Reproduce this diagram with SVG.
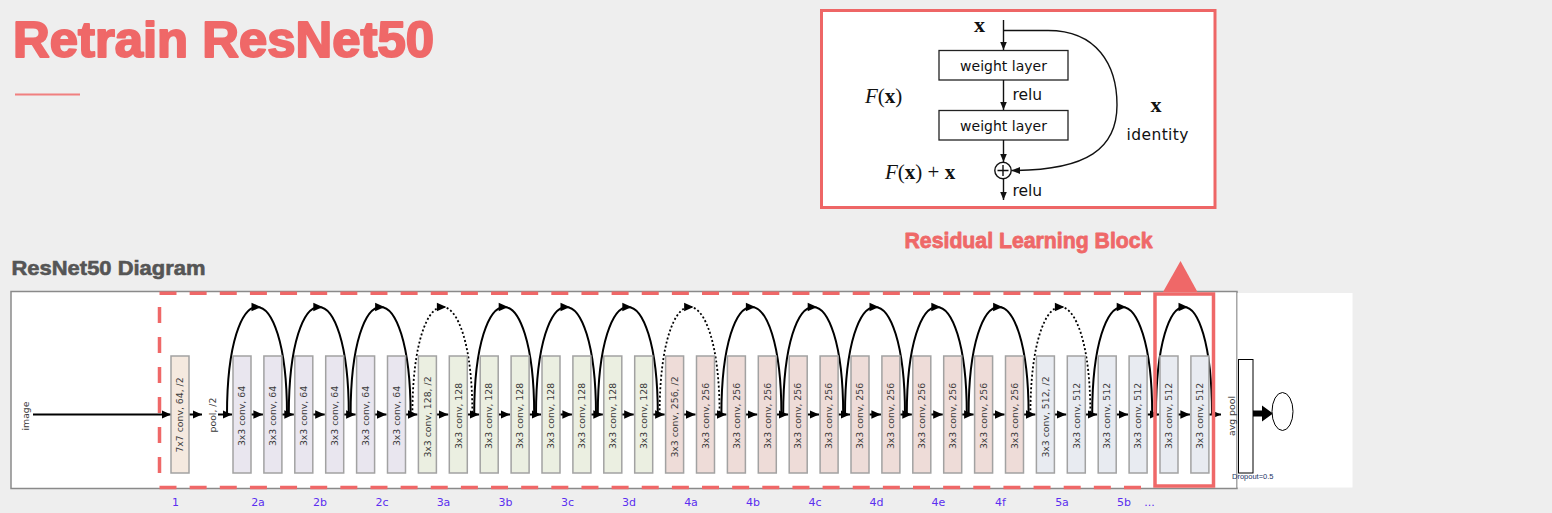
<svg xmlns="http://www.w3.org/2000/svg" xmlns:xlink="http://www.w3.org/1999/xlink" width="1552" height="513" viewBox="0 0 1552 513">
<defs>
<style>
.title{font-family:"Liberation Sans",Arial,sans-serif;font-weight:bold;fill:#ef6868;stroke:#ef6868;stroke-linejoin:round}
.sub{font-family:"Liberation Sans",Arial,sans-serif;font-weight:bold;fill:#555;stroke:#555;stroke-width:0.6}
.bx{stroke:#a2a2a2;stroke-width:1.5}
.c1{fill:#f5e9df}.c2{fill:#e9e6ef}.c3{fill:#ebefe1}.c4{fill:#eedcd8}.c5{fill:#e8ebf1}
.bt{font-family:"DejaVu Sans",sans-serif;font-size:9.3px;fill:#3a3a3a;text-anchor:middle}
.lab{font-family:"DejaVu Sans",sans-serif;font-size:11px;fill:#5b2ef0;text-anchor:middle}
.ml{stroke:#000;stroke-width:2;fill:none}
.arc{stroke:#000;stroke-width:2;fill:none}
.dot{stroke-dasharray:2 2.2;stroke-width:1.8}
.rb{font-family:"DejaVu Sans",sans-serif;fill:#111}
.mth{font-family:"Liberation Serif",serif;fill:#111}
.rl{stroke:#111;stroke-width:1.4;fill:none}
</style>
<marker id="ah" markerUnits="userSpaceOnUse" markerWidth="10" markerHeight="10" viewBox="0 0 10 10" refX="9.5" refY="5" orient="auto"><path d="M0,0.8 L9.5,5 L0,9.2z" fill="#000"/></marker>
<marker id="ah2" markerUnits="userSpaceOnUse" markerWidth="9" markerHeight="9" viewBox="0 0 9 9" refX="8.5" refY="4.5" orient="auto"><path d="M0,1 L8.5,4.5 L0,8z" fill="#111"/></marker>
<path id="tri" d="M-5.5,-4.3 L4,0 L-5.5,4.3z" fill="#000"/>
</defs>
<rect width="1552" height="513" fill="#eeeeee"/>

<g id="title">
<text x="13" y="57" class="title" font-size="50" stroke-width="2" textLength="421" lengthAdjust="spacingAndGlyphs">Retrain ResNet50</text>
<line x1="15" y1="94.5" x2="80" y2="94.5" stroke="#f07f7f" stroke-width="2"/>
</g>
<g id="subtitle"><text x="11.5" y="275" class="sub" font-size="21" textLength="194" lengthAdjust="spacingAndGlyphs">ResNet50 Diagram</text></g>
<g id="residual-caption"><text x="904.5" y="248" class="title" font-size="21.5" stroke-width="0.8" textLength="248" lengthAdjust="spacingAndGlyphs">Residual Learning Block</text></g>

<g id="residual-block">
<rect x="821.5" y="10.5" width="393.5" height="197" fill="#fff" stroke="#ee6666" stroke-width="3"/>
<text x="979.5" y="32" class="mth" font-size="22" font-weight="bold" text-anchor="middle">x</text>
<rect x="939" y="50.5" width="129" height="29.5" fill="#fff" stroke="#222" stroke-width="1.3"/>
<text x="1003.5" y="71" class="rb" font-size="14" text-anchor="middle">weight layer</text>
<rect x="939" y="110.5" width="129" height="29.5" fill="#fff" stroke="#222" stroke-width="1.3"/>
<text x="1003.5" y="131" class="rb" font-size="14" text-anchor="middle">weight layer</text>
<text x="1012.5" y="99.5" class="rb" font-size="15.5">relu</text>
<text x="1012.5" y="195.5" class="rb" font-size="15.5">relu</text>
<text x="865" y="103" class="mth" font-size="21"><tspan font-style="italic">F</tspan>(<tspan font-weight="bold">x</tspan>)</text>
<text x="885" y="179" class="mth" font-size="21"><tspan font-style="italic">F</tspan>(<tspan font-weight="bold">x</tspan>) + <tspan font-weight="bold">x</tspan></text>
<text x="1156" y="112" class="mth" font-size="22" font-weight="bold" text-anchor="middle">x</text>
<text x="1157.5" y="140" class="rb" font-size="15.5" text-anchor="middle" textLength="62">identity</text>
<circle cx="1003" cy="170.5" r="8.2" fill="none" stroke="#111" stroke-width="1.4"/>
<path d="M997.5,170.5 H1008.5 M1003,165 V176" stroke="#111" stroke-width="1.4"/>
<line x1="1003.5" y1="20" x2="1003.5" y2="50" class="rl" marker-end="url(#ah2)"/>
<line x1="1003.5" y1="80" x2="1003.5" y2="110" class="rl" marker-end="url(#ah2)"/>
<line x1="1003.5" y1="140" x2="1003.5" y2="162" class="rl" marker-end="url(#ah2)"/>
<line x1="1003.5" y1="179" x2="1003.5" y2="200" class="rl" marker-end="url(#ah2)"/>
<path d="M1004,30.5 L1048,30.5 C1097,30.5 1117,65 1117,105 C1117,148 1088,170.5 1011.5,170.5" class="rl" marker-end="url(#ah2)"/>
</g>

<g id="diagram-frame">
<rect x="11" y="291.5" width="1226" height="197" fill="#fff" stroke="#8a8a8a" stroke-width="1.5"/>
<rect x="1237.5" y="293" width="115" height="194.5" fill="#fff"/>
<g stroke="#ef6868" stroke-width="3.5" fill="none">
<line x1="159.5" y1="293.2" x2="1153" y2="293.2" stroke-dasharray="17 13.14"/>
<line x1="159.5" y1="487.5" x2="1153" y2="487.5" stroke-dasharray="17 13.14"/>
<line x1="159.5" y1="307" x2="159.5" y2="487" stroke-dasharray="16 14"/>
</g>
</g>

<g id="connectors">
<line x1="33" y1="414.5" x2="171" y2="414.5" class="ml" marker-end="url(#ah)"/>
<line x1="189" y1="414.5" x2="202" y2="414.5" class="ml" marker-end="url(#ah)"/>
<line x1="218" y1="414.5" x2="232" y2="414.5" class="ml" marker-end="url(#ah)"/>
<line x1="251" y1="414.5" x2="262.9" y2="414.5" class="ml" marker-end="url(#ah)"/>
<line x1="281.9" y1="414.5" x2="293.8" y2="414.5" class="ml" marker-end="url(#ah)"/>
<line x1="312.8" y1="414.5" x2="324.7" y2="414.5" class="ml" marker-end="url(#ah)"/>
<line x1="343.7" y1="414.5" x2="355.6" y2="414.5" class="ml" marker-end="url(#ah)"/>
<line x1="374.6" y1="414.5" x2="386.5" y2="414.5" class="ml" marker-end="url(#ah)"/>
<line x1="405.5" y1="414.5" x2="417.4" y2="414.5" class="ml" marker-end="url(#ah)"/>
<line x1="436.4" y1="414.5" x2="448.3" y2="414.5" class="ml" marker-end="url(#ah)"/>
<line x1="467.3" y1="414.5" x2="479.2" y2="414.5" class="ml" marker-end="url(#ah)"/>
<line x1="498.2" y1="414.5" x2="510.1" y2="414.5" class="ml" marker-end="url(#ah)"/>
<line x1="529.1" y1="414.5" x2="541" y2="414.5" class="ml" marker-end="url(#ah)"/>
<line x1="560" y1="414.5" x2="571.9" y2="414.5" class="ml" marker-end="url(#ah)"/>
<line x1="590.9" y1="414.5" x2="602.8" y2="414.5" class="ml" marker-end="url(#ah)"/>
<line x1="621.8" y1="414.5" x2="633.7" y2="414.5" class="ml" marker-end="url(#ah)"/>
<line x1="652.7" y1="414.5" x2="664.6" y2="414.5" class="ml" marker-end="url(#ah)"/>
<line x1="683.6" y1="414.5" x2="695.5" y2="414.5" class="ml" marker-end="url(#ah)"/>
<line x1="714.5" y1="414.5" x2="726.4" y2="414.5" class="ml" marker-end="url(#ah)"/>
<line x1="745.4" y1="414.5" x2="757.3" y2="414.5" class="ml" marker-end="url(#ah)"/>
<line x1="776.3" y1="414.5" x2="788.2" y2="414.5" class="ml" marker-end="url(#ah)"/>
<line x1="807.2" y1="414.5" x2="819.1" y2="414.5" class="ml" marker-end="url(#ah)"/>
<line x1="838.1" y1="414.5" x2="850" y2="414.5" class="ml" marker-end="url(#ah)"/>
<line x1="869" y1="414.5" x2="880.9" y2="414.5" class="ml" marker-end="url(#ah)"/>
<line x1="899.9" y1="414.5" x2="911.8" y2="414.5" class="ml" marker-end="url(#ah)"/>
<line x1="930.8" y1="414.5" x2="942.7" y2="414.5" class="ml" marker-end="url(#ah)"/>
<line x1="961.7" y1="414.5" x2="973.6" y2="414.5" class="ml" marker-end="url(#ah)"/>
<line x1="992.6" y1="414.5" x2="1004.5" y2="414.5" class="ml" marker-end="url(#ah)"/>
<line x1="1023.5" y1="414.5" x2="1035.4" y2="414.5" class="ml" marker-end="url(#ah)"/>
<line x1="1054.4" y1="414.5" x2="1066.3" y2="414.5" class="ml" marker-end="url(#ah)"/>
<line x1="1085.3" y1="414.5" x2="1097.2" y2="414.5" class="ml" marker-end="url(#ah)"/>
<line x1="1116.2" y1="414.5" x2="1128.1" y2="414.5" class="ml" marker-end="url(#ah)"/>
<line x1="1147.1" y1="414.5" x2="1159" y2="414.5" class="ml" marker-end="url(#ah)"/>
<line x1="1178" y1="414.5" x2="1189.9" y2="414.5" class="ml" marker-end="url(#ah)"/>
<line x1="1208.9" y1="414.5" x2="1221" y2="414.5" class="ml" marker-end="url(#ah)"/>
<path d="M1253,410.5 H1262 V405.5 L1273,413.5 L1262,421.5 V416.5 H1253z" fill="#000"/>
<path class="arc" d="M227,414.5 C227,271 287,271 287,414.5"/><use xlink:href="#tri" x="257" y="307"/>
<path class="arc" d="M288.8,414.5 C288.8,271 348.8,271 348.8,414.5"/><use xlink:href="#tri" x="318.8" y="307"/>
<path class="arc" d="M350.6,414.5 C350.6,271 410.6,271 410.6,414.5"/><use xlink:href="#tri" x="380.6" y="307"/>
<path class="arc dot" d="M412.4,414.5 C412.4,271 472.4,271 472.4,414.5"/><use xlink:href="#tri" x="442.4" y="307"/>
<path class="arc" d="M474.2,414.5 C474.2,271 534.2,271 534.2,414.5"/><use xlink:href="#tri" x="504.2" y="307"/>
<path class="arc" d="M536,414.5 C536,271 596,271 596,414.5"/><use xlink:href="#tri" x="566" y="307"/>
<path class="arc" d="M597.8,414.5 C597.8,271 657.8,271 657.8,414.5"/><use xlink:href="#tri" x="627.8" y="307"/>
<path class="arc dot" d="M659.6,414.5 C659.6,271 719.6,271 719.6,414.5"/><use xlink:href="#tri" x="689.6" y="307"/>
<path class="arc" d="M721.4,414.5 C721.4,271 781.4,271 781.4,414.5"/><use xlink:href="#tri" x="751.4" y="307"/>
<path class="arc" d="M783.2,414.5 C783.2,271 843.2,271 843.2,414.5"/><use xlink:href="#tri" x="813.2" y="307"/>
<path class="arc" d="M845,414.5 C845,271 905,271 905,414.5"/><use xlink:href="#tri" x="875" y="307"/>
<path class="arc" d="M906.8,414.5 C906.8,271 966.8,271 966.8,414.5"/><use xlink:href="#tri" x="936.8" y="307"/>
<path class="arc" d="M968.6,414.5 C968.6,271 1028.6,271 1028.6,414.5"/><use xlink:href="#tri" x="998.6" y="307"/>
<path class="arc dot" d="M1030.4,414.5 C1030.4,271 1090.4,271 1090.4,414.5"/><use xlink:href="#tri" x="1060.4" y="307"/>
<path class="arc" d="M1092.2,414.5 C1092.2,271 1152.2,271 1152.2,414.5"/><use xlink:href="#tri" x="1122.2" y="307"/>
<path class="arc" d="M1156,414.5 C1156,271 1212,271 1212,414.5"/><use xlink:href="#tri" x="1184" y="307"/>
</g>

<g id="n-image"><text class="bt" font-size="9.5" transform="translate(26,416) rotate(-90)" dy="0.35em">image</text></g>
<g id="n-conv1"><rect class="bx c1" x="171" y="356" width="18" height="117"/><text class="bt" transform="translate(180,415) rotate(-90)" dy="0.35em">7x7 conv, 64, /2</text></g>
<g id="n-pool"><text class="bt" font-size="9.5" transform="translate(213,415) rotate(-90)" dy="0.35em">pool, /2</text></g>

<g id="n-2a">
<rect class="bx c2" x="233" y="356" width="18" height="117"/><text class="bt" transform="translate(242,416) rotate(-90)" dy="0.35em">3x3 conv, 64</text>
<rect class="bx c2" x="263.9" y="356" width="18" height="117"/><text class="bt" transform="translate(272.9,416) rotate(-90)" dy="0.35em">3x3 conv, 64</text>
</g>
<g id="n-2b">
<rect class="bx c2" x="294.8" y="356" width="18" height="117"/><text class="bt" transform="translate(303.8,416) rotate(-90)" dy="0.35em">3x3 conv, 64</text>
<rect class="bx c2" x="325.7" y="356" width="18" height="117"/><text class="bt" transform="translate(334.7,416) rotate(-90)" dy="0.35em">3x3 conv, 64</text>
</g>
<g id="n-2c">
<rect class="bx c2" x="356.6" y="356" width="18" height="117"/><text class="bt" transform="translate(365.6,416) rotate(-90)" dy="0.35em">3x3 conv, 64</text>
<rect class="bx c2" x="387.5" y="356" width="18" height="117"/><text class="bt" transform="translate(396.5,416) rotate(-90)" dy="0.35em">3x3 conv, 64</text>
</g>
<g id="n-3a">
<rect class="bx c3" x="418.4" y="356" width="18" height="117"/><text class="bt" transform="translate(427.4,417) rotate(-90)" dy="0.35em">3x3 conv, 128, /2</text>
<rect class="bx c3" x="449.3" y="356" width="18" height="117"/><text class="bt" transform="translate(458.3,416) rotate(-90)" dy="0.35em">3x3 conv, 128</text>
</g>
<g id="n-3b">
<rect class="bx c3" x="480.2" y="356" width="18" height="117"/><text class="bt" transform="translate(489.2,416) rotate(-90)" dy="0.35em">3x3 conv, 128</text>
<rect class="bx c3" x="511.1" y="356" width="18" height="117"/><text class="bt" transform="translate(520.1,416) rotate(-90)" dy="0.35em">3x3 conv, 128</text>
</g>
<g id="n-3c">
<rect class="bx c3" x="542" y="356" width="18" height="117"/><text class="bt" transform="translate(551,416) rotate(-90)" dy="0.35em">3x3 conv, 128</text>
<rect class="bx c3" x="572.9" y="356" width="18" height="117"/><text class="bt" transform="translate(581.9,416) rotate(-90)" dy="0.35em">3x3 conv, 128</text>
</g>
<g id="n-3d">
<rect class="bx c3" x="603.8" y="356" width="18" height="117"/><text class="bt" transform="translate(612.8,416) rotate(-90)" dy="0.35em">3x3 conv, 128</text>
<rect class="bx c3" x="634.7" y="356" width="18" height="117"/><text class="bt" transform="translate(643.7,416) rotate(-90)" dy="0.35em">3x3 conv, 128</text>
</g>
<g id="n-4a">
<rect class="bx c4" x="665.6" y="356" width="18" height="117"/><text class="bt" transform="translate(674.6,417) rotate(-90)" dy="0.35em">3x3 conv, 256, /2</text>
<rect class="bx c4" x="696.5" y="356" width="18" height="117"/><text class="bt" transform="translate(705.5,416) rotate(-90)" dy="0.35em">3x3 conv, 256</text>
</g>
<g id="n-4b">
<rect class="bx c4" x="727.4" y="356" width="18" height="117"/><text class="bt" transform="translate(736.4,416) rotate(-90)" dy="0.35em">3x3 conv, 256</text>
<rect class="bx c4" x="758.3" y="356" width="18" height="117"/><text class="bt" transform="translate(767.3,416) rotate(-90)" dy="0.35em">3x3 conv, 256</text>
</g>
<g id="n-4c">
<rect class="bx c4" x="789.2" y="356" width="18" height="117"/><text class="bt" transform="translate(798.2,416) rotate(-90)" dy="0.35em">3x3 conv, 256</text>
<rect class="bx c4" x="820.1" y="356" width="18" height="117"/><text class="bt" transform="translate(829.1,416) rotate(-90)" dy="0.35em">3x3 conv, 256</text>
</g>
<g id="n-4d">
<rect class="bx c4" x="851" y="356" width="18" height="117"/><text class="bt" transform="translate(860,416) rotate(-90)" dy="0.35em">3x3 conv, 256</text>
<rect class="bx c4" x="881.9" y="356" width="18" height="117"/><text class="bt" transform="translate(890.9,416) rotate(-90)" dy="0.35em">3x3 conv, 256</text>
</g>
<g id="n-4e">
<rect class="bx c4" x="912.8" y="356" width="18" height="117"/><text class="bt" transform="translate(921.8,416) rotate(-90)" dy="0.35em">3x3 conv, 256</text>
<rect class="bx c4" x="943.7" y="356" width="18" height="117"/><text class="bt" transform="translate(952.7,416) rotate(-90)" dy="0.35em">3x3 conv, 256</text>
</g>
<g id="n-4f">
<rect class="bx c4" x="974.6" y="356" width="18" height="117"/><text class="bt" transform="translate(983.6,416) rotate(-90)" dy="0.35em">3x3 conv, 256</text>
<rect class="bx c4" x="1005.5" y="356" width="18" height="117"/><text class="bt" transform="translate(1014.5,416) rotate(-90)" dy="0.35em">3x3 conv, 256</text>
</g>
<g id="n-5a">
<rect class="bx c5" x="1036.4" y="356" width="18" height="117"/><text class="bt" transform="translate(1045.4,417) rotate(-90)" dy="0.35em">3x3 conv, 512, /2</text>
<rect class="bx c5" x="1067.3" y="356" width="18" height="117"/><text class="bt" transform="translate(1076.3,416) rotate(-90)" dy="0.35em">3x3 conv, 512</text>
</g>
<g id="n-5b">
<rect class="bx c5" x="1098.2" y="356" width="18" height="117"/><text class="bt" transform="translate(1107.2,416) rotate(-90)" dy="0.35em">3x3 conv, 512</text>
<rect class="bx c5" x="1129.1" y="356" width="18" height="117"/><text class="bt" transform="translate(1138.1,416) rotate(-90)" dy="0.35em">3x3 conv, 512</text>
</g>
<g id="n-5c">
<rect class="bx c5" x="1160" y="356" width="18" height="117"/><text class="bt" transform="translate(1169,416) rotate(-90)" dy="0.35em">3x3 conv, 512</text>
<rect class="bx c5" x="1190.9" y="356" width="18" height="117"/><text class="bt" transform="translate(1199.9,416) rotate(-90)" dy="0.35em">3x3 conv, 512</text>
</g>

<g id="n-avgpool">
<text class="bt" font-size="9.5" transform="translate(1231.5,416) rotate(-90)" dy="0.35em">avg pool</text>
<rect x="1238.5" y="359.5" width="14.5" height="113.5" fill="#fff" stroke="#000" stroke-width="1"/>
<text x="1232" y="479" font-family="Liberation Sans,Arial,sans-serif" font-size="7.5" fill="#223366">Dropout=0.5</text>
</g>
<g id="n-output"><ellipse cx="1282.5" cy="411.5" rx="10.5" ry="19" fill="#fff" stroke="#000" stroke-width="1"/></g>

<g id="highlight">
<rect x="1155" y="294" width="58.5" height="192" fill="none" stroke="#ef6868" stroke-width="3.5"/>
<path d="M1180.5,261 L1197.5,292 L1163,292z" fill="#ef6868"/>
</g>

<g id="labels">
<text class="lab" x="175.5" y="506">1</text>
<text class="lab" x="258" y="506">2a</text>
<text class="lab" x="320" y="506">2b</text>
<text class="lab" x="382" y="506">2c</text>
<text class="lab" x="443.5" y="506">3a</text>
<text class="lab" x="505.5" y="506">3b</text>
<text class="lab" x="567.5" y="506">3c</text>
<text class="lab" x="629" y="506">3d</text>
<text class="lab" x="691" y="506">4a</text>
<text class="lab" x="753" y="506">4b</text>
<text class="lab" x="815" y="506">4c</text>
<text class="lab" x="876.5" y="506">4d</text>
<text class="lab" x="938.5" y="506">4e</text>
<text class="lab" x="1000.5" y="506">4f</text>
<text class="lab" x="1062" y="506">5a</text>
<text class="lab" x="1124" y="506">5b</text>
<text class="lab" x="1149.5" y="506">...</text>
</g>
</svg>
